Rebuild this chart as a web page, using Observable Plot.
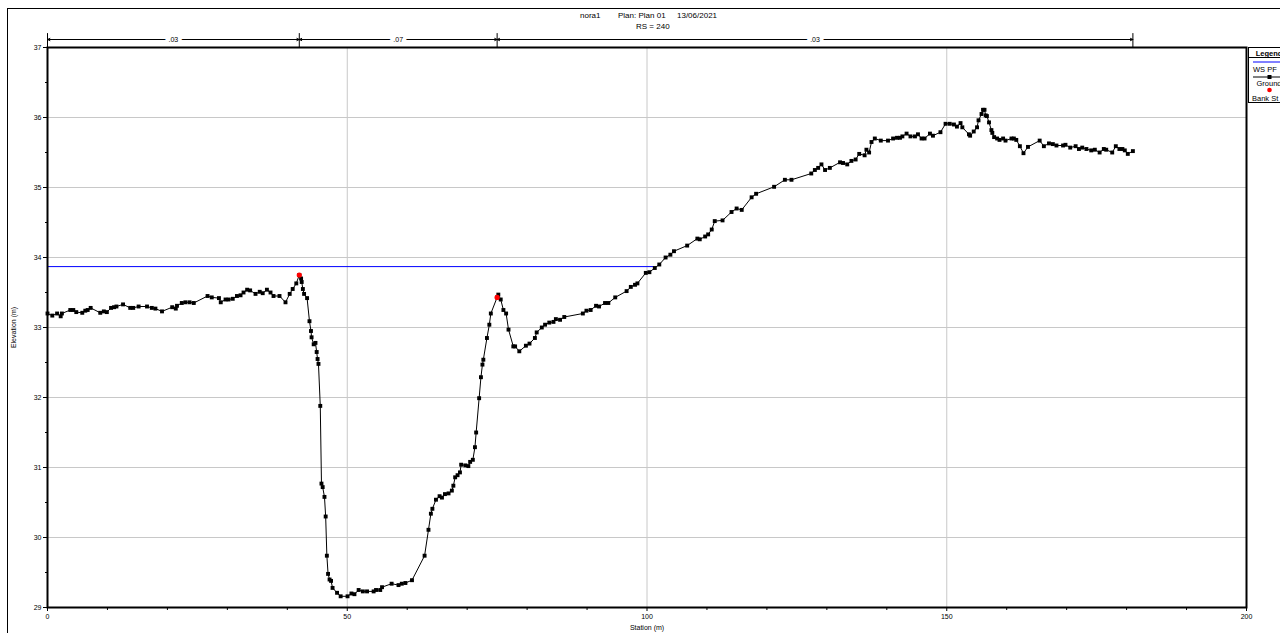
<!DOCTYPE html>
<html>
<head>
<meta charset="utf-8">
<script src="https://cdn.jsdelivr.net/npm/d3@7"></script>
<script src="https://cdn.jsdelivr.net/npm/@observablehq/plot@0.6"></script>
<style>
  html, body { margin: 0; padding: 0; background: #fff; overflow: hidden; width: 1280px; height: 633px; }
  body { position: relative; font-family: "Liberation Sans", Arial, sans-serif; }
  #outer { position: absolute; left: 7px; top: 8px; width: 1400px; height: 700px; border: 1px solid #000; box-sizing: border-box; }
  #chart { position: absolute; left: 0; top: 0; }
  .t { position: absolute; font-size: 8px; line-height: 8px; color: #000; white-space: pre; }
  #legend { position: absolute; left: 1248px; top: 47px; width: 42px; height: 56px; border: 1px solid #000; box-sizing: border-box; background: #fff; font-size: 7.5px; }
  #legend .lh { position: absolute; left: 0; right: 0; top: 1px; text-align: center; font-weight: bold; }
  #legend .sep { position: absolute; left: 0; right: 0; top: 9px; border-top: 1px solid #000; }
  #legend .lt { position: absolute; left: 0; right: 0; text-align: center; white-space: pre; }
  #legend svg { position: absolute; left: 0; top: 0; }
</style>
</head>
<body>
<div id="outer"></div>
<div id="chart"></div>
<div class="t" style="left:580px;top:12px">nora1</div>
<div class="t" style="left:618px;top:12px">Plan: Plan 01</div>
<div class="t" style="left:677px;top:12px">13/06/2021</div>
<div class="t" style="left:636px;top:23px">RS = 240</div>
<div id="legend">
  <div class="lh">Legend</div>
  <div class="sep"></div>
  <svg width="42" height="56">
    <line x1="4" x2="42" y1="14" y2="14" stroke="#0000ff" stroke-width="1"/>
    <line x1="4" x2="42" y1="29" y2="29" stroke="#000" stroke-width="1"/>
    <rect x="18.5" y="27" width="4" height="4" fill="#000"/>
    <circle cx="20.5" cy="42" r="2.3" fill="#ff0000"/>
  </svg>
  <div class="lt" style="top:17px;text-align:left;left:4px">WS PF</div>
  <div class="lt" style="top:31px">Ground</div>
  <div class="lt" style="top:46px;left:-2px;right:auto;text-align:left;padding-left:5px">Bank St</div>
</div>
<script>
// ---- data ----
const groundStation = [
  0, 0.8, 1.6, 2.2, 2.4, 3.8, 4.3, 4.8, 5.8, 6.3, 6.7, 7.2, 8.8, 9.4, 9.9, 10.6, 11.1, 11.5, 12.6, 13.8,
  14.3, 15.2, 16.6, 17.4, 18.0, 19.1, 20.8, 21.4, 21.6, 22.4, 23.0, 23.7, 24.4, 26.7, 27.4, 28.6, 28.9, 29.7, 30.2, 30.9,
  31.6, 32.2, 32.7, 33.3, 33.8, 34.7, 35.4, 35.9, 36.6, 37.2, 37.7, 38.7, 39.7, 40.4, 40.9, 41.5, 42.0, 42.3, 42.4, 42.6,
  42.8, 43.3, 43.7, 43.95, 44.05, 44.4, 44.7, 44.9, 45.05, 45.2, 45.5, 45.7, 45.9, 46.2, 46.4, 46.6, 46.8, 47.05, 47.3, 47.55,
  48.3, 48.9, 50.05, 50.7, 51.2, 51.9, 52.6, 53.3, 54.4, 54.8, 55.5, 55.8, 57.4, 58.55, 59.1, 59.7, 60.8, 62.9, 63.55, 63.95,
  64.2, 64.8, 65.4, 65.8, 66.3, 66.9, 67.45, 67.7, 68.0, 68.4, 68.8, 69.0, 69.7, 70.2, 70.5, 70.95, 71.3, 71.5, 72.0, 72.3,
  72.55, 72.7, 73.3, 73.7, 73.95, 75.0, 75.2, 75.6, 76.05, 76.5, 76.9, 77.7, 78.0, 78.7, 79.8, 80.4, 81.3, 81.6, 82.45, 83.0,
  83.7, 84.4, 84.8, 85.5, 86.2, 89.3, 89.9, 90.6, 91.5, 92.0, 93.0, 93.55, 94.7, 96.6, 97.3, 98.0, 98.4, 99.8, 100.4, 101.3,
  102.05, 103.1, 103.9, 104.5, 106.7, 108.4, 108.8, 109.7, 110.2, 110.8, 111.3, 112.6, 114.1, 114.95, 115.8, 117.45, 118.2, 121.2, 123.0, 124.1,
  127.4, 128.0, 128.55, 129.1, 129.7, 130.5, 132.2, 132.7, 133.4, 134.1, 134.8, 135.4, 136.3, 136.6, 137.05, 137.45, 138.0, 139.0, 140.2, 141.05,
  141.7, 142.2, 142.6, 143.3, 143.95, 144.7, 145.2, 145.8, 146.3, 147.2, 147.7, 148.95, 149.8, 150.5, 151.2, 151.7, 152.3, 152.6, 153.7, 153.9,
  154.5, 155.05, 155.3, 155.8, 156.05, 156.3, 156.5, 156.7, 157.05, 157.45, 157.6, 157.9, 158.4, 158.8, 159.4, 159.8, 160.8, 161.2, 161.6, 162.2,
  162.8, 163.55, 165.5, 166.2, 167.05, 167.7, 168.3, 169.4, 169.8, 170.6, 171.5, 172.05, 172.6, 173.3, 174.1, 174.7, 175.5, 176.2, 176.6, 177.6,
  178.2, 178.8, 179.3, 179.7, 180.2, 181.05
];
const groundElev = [
  33.20, 33.17, 33.20, 33.16, 33.20, 33.25, 33.25, 33.22, 33.21, 33.24, 33.25, 33.28, 33.21, 33.23, 33.22, 33.28, 33.29, 33.30, 33.33, 33.28,
  33.28, 33.30, 33.30, 33.28, 33.27, 33.23, 33.29, 33.27, 33.31, 33.35, 33.36, 33.36, 33.35, 33.45, 33.43, 33.42, 33.36, 33.40, 33.40, 33.41,
  33.45, 33.46, 33.50, 33.54, 33.53, 33.48, 33.51, 33.49, 33.54, 33.50, 33.45, 33.45, 33.36, 33.48, 33.55, 33.63, 33.75, 33.70, 33.65, 33.55,
  33.48, 33.42, 33.09, 32.95, 32.86, 32.76, 32.78, 32.65, 32.55, 32.48, 31.88, 30.77, 30.72, 30.58, 30.30, 29.74, 29.48, 29.40, 29.38, 29.28,
  29.21, 29.16, 29.16, 29.20, 29.19, 29.25, 29.23, 29.23, 29.23, 29.25, 29.25, 29.29, 29.34, 29.32, 29.34, 29.35, 29.39, 29.74, 30.11, 30.34,
  30.41, 30.54, 30.59, 30.57, 30.62, 30.63, 30.67, 30.74, 30.86, 30.89, 30.93, 31.04, 31.03, 31.02, 31.08, 31.11, 31.29, 31.50, 31.99, 32.29,
  32.47, 32.54, 32.85, 33.04, 33.20, 33.43, 33.47, 33.40, 33.25, 33.20, 32.97, 32.73, 32.73, 32.66, 32.74, 32.77, 32.85, 32.93, 33.00, 33.04,
  33.07, 33.08, 33.12, 33.11, 33.15, 33.20, 33.24, 33.25, 33.31, 33.30, 33.35, 33.35, 33.43, 33.52, 33.58, 33.61, 33.63, 33.78, 33.79, 33.85,
  33.90, 34.00, 34.04, 34.09, 34.17, 34.27, 34.26, 34.30, 34.33, 34.40, 34.52, 34.53, 34.65, 34.70, 34.68, 34.86, 34.91, 35.01, 35.11, 35.11,
  35.20, 35.25, 35.28, 35.33, 35.25, 35.28, 35.36, 35.35, 35.33, 35.38, 35.40, 35.48, 35.46, 35.54, 35.50, 35.65, 35.70, 35.67, 35.67, 35.70,
  35.71, 35.71, 35.73, 35.77, 35.73, 35.73, 35.76, 35.70, 35.70, 35.77, 35.74, 35.79, 35.91, 35.91, 35.90, 35.87, 35.92, 35.86, 35.76, 35.74,
  35.80, 35.86, 35.96, 36.05, 36.11, 36.11, 36.03, 36.02, 35.93, 35.82, 35.78, 35.72, 35.70, 35.68, 35.70, 35.67, 35.70, 35.70, 35.68, 35.59,
  35.49, 35.58, 35.67, 35.59, 35.63, 35.62, 35.60, 35.60, 35.61, 35.57, 35.59, 35.55, 35.57, 35.55, 35.53, 35.54, 35.50, 35.55, 35.54, 35.50,
  35.59, 35.55, 35.55, 35.53, 35.48, 35.52
];
const bankStation = [42.0, 75.0];
const bankElev = [33.75, 33.43];
const wsStation = [0, 101.0];
const wsElev = [33.87, 33.87];
const nBreaks = [0, 42.0, 75.0, 181.05];
const nValues = [".03", ".07", ".03"];
const xMajor = [0, 50, 100, 150, 200];
const xMinor = [10, 20, 30, 40, 60, 70, 80, 90, 110, 120, 130, 140, 160, 170, 180, 190];
const yMajor = [29, 30, 31, 32, 33, 34, 35, 36, 37];
const yMinor = [29.5, 30.5, 31.5, 32.5, 33.5, 34.5, 35.5, 36.5];
const xLabel = "Station (m)";
const yLabel = "Elevation (m)";

// ---- tables built from arrays ----
const ground = groundStation.map((s, i) => ({s, e: groundElev[i]}));
const banks = bankStation.map((s, i) => ({s, e: bankElev[i]}));
const ws = wsStation.map((s, i) => ({s, e: wsElev[i]}));
const segs = nValues.map((n, i) => ({a: nBreaks[i], b: nBreaks[i + 1], mid: (nBreaks[i] + nBreaks[i + 1]) / 2, n}));
const halves = segs.flatMap(d => [{x1: d.mid, x2: d.a}, {x1: d.mid, x2: d.b}]);
const yTop = yMajor[yMajor.length - 1];

const lineShape = {draw(context, l) { context.moveTo(0, 0); context.lineTo(0, -l); }};
const intFmt = d => String(d);

const chart = Plot.plot({
  width: 1280,
  height: 633,
  marginLeft: 47,
  marginRight: 34,
  marginTop: 47,
  marginBottom: 26,
  style: {fontFamily: "'Liberation Sans', Arial, sans-serif", fontSize: "7px", background: "transparent", overflow: "visible", color: "#000"},
  x: {domain: [xMajor[0], xMajor[xMajor.length - 1]]},
  y: {domain: [yMajor[0], yTop]},
  marks: [
    Plot.gridX(xMajor, {stroke: "#c8c8c8", strokeOpacity: 1}),
    Plot.gridY(yMajor, {stroke: "#c8c8c8", strokeOpacity: 1}),
    Plot.axisX(xMajor, {tickSize: 4, tickPadding: 3, tickFormat: intFmt, label: null, fill: "#000", fontSize: 7}),
    Plot.axisX(xMinor, {tickSize: 3, tickFormat: () => "", label: null}),
    Plot.axisY(yMajor, {tickSize: 4, tickPadding: 2, tickFormat: intFmt, label: null, fill: "#000", fontSize: 7}),
    Plot.axisY(yMinor, {tickSize: 2, tickFormat: () => "", label: null}),
    Plot.line(ws, {x: "s", y: "e", stroke: "#0000ff", strokeWidth: 1}),
    Plot.line(ground, {x: "s", y: "e", stroke: "#000", strokeWidth: 1}),
    Plot.dot(ground, {x: "s", y: "e", symbol: "square", r: 2.2, fill: "#000", stroke: "none"}),
    Plot.dot(banks, {x: "s", y: "e", r: 2.6, fill: "#ff0000", stroke: "none"}),
    Plot.frame({stroke: "#000", strokeWidth: 2}),
    // Manning's n bar above the frame
    Plot.arrow(halves, {x1: "x1", x2: "x2", y1: () => yTop, y2: () => yTop, dy: -8, headLength: 4, headAngle: 50, stroke: "#000", strokeWidth: 1}),
    Plot.vector(nBreaks, {x: d => d, y: () => yTop, length: 14, anchor: "start", rotate: 0, shape: lineShape, stroke: "#000", strokeWidth: 1}),
    Plot.text(segs, {x: "mid", y: () => yTop, dy: -8, text: "n", fontSize: 7, fill: "#000", stroke: "#fff", strokeWidth: 8, paintOrder: "stroke"}),
    // axis titles
    Plot.text([yLabel], {frameAnchor: "left", dx: -34, rotate: -90, textAnchor: "middle", fontSize: 7, fill: "#000"}),
    Plot.text([xLabel], {frameAnchor: "bottom", dy: 22, textAnchor: "middle", fontSize: 7, fill: "#000"})
  ]
});
document.getElementById("chart").appendChild(chart);
</script>
</body>
</html>
